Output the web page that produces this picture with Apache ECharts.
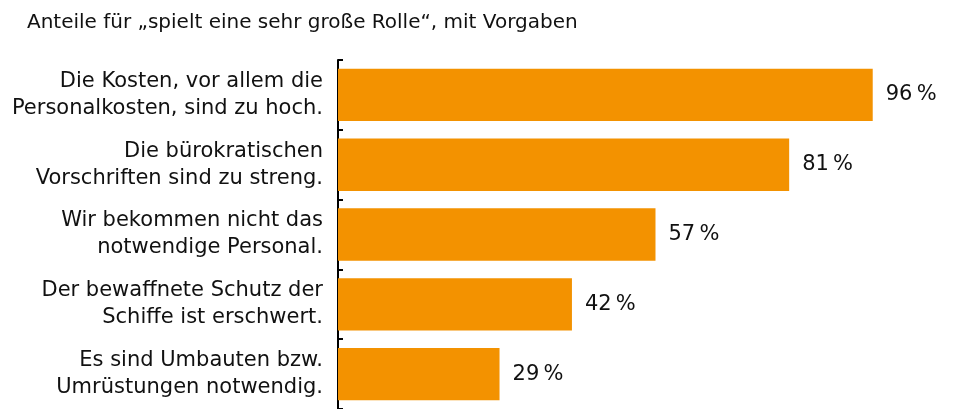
<!DOCTYPE html>
<html><head><meta charset="utf-8">
<script src="https://cdn.jsdelivr.net/npm/echarts@6/dist/echarts.min.js"></script>
<style>html,body{margin:0;padding:0;background:#fff}#c{width:956px;height:409px}</style>
</head><body><div id="c"></div>
<script>
const title = 'Anteile für „spielt eine sehr große Rolle“, mit Vorgaben';
const categories = [
  'Die Kosten, vor allem die\nPersonalkosten, sind zu hoch.',
  'Die bürokratischen\nVorschriften sind zu streng.',
  'Wir bekommen nicht das\nnotwendige Personal.',
  'Der bewaffnete Schutz der\nSchiffe ist erschwert.',
  'Es sind Umbauten bzw.\nUmrüstungen notwendig.'
];
const values = [96, 81, 57, 42, 29];
const font = '"DejaVu Sans", sans-serif';
const chart = echarts.init(document.getElementById('c'), null, {renderer: 'canvas'});
chart.setOption({
  animation: false,
  title: {text: title, left: 22, top: 8, textStyle: {fontFamily: font, fontSize: 20, fontWeight: 'normal', color: '#111'}},
  grid: {left: 338, right: 61, top: 60, height: 352, containLabel: false},
  xAxis: {type: 'value', min: 0, max: 100, show: false},
  yAxis: {
    type: 'category', data: categories, inverse: true,
    axisLine: {show: true, lineStyle: {color: '#000', width: 2}},
    axisTick: {show: true, inside: true, length: 5, lineStyle: {color: '#000', width: 2}},
    axisLabel: {fontFamily: font, fontSize: 21, color: '#111', lineHeight: 27, margin: 15, align: 'right'}
  },
  series: [{
    type: 'bar', data: values, barCategoryGap: '25%',
    itemStyle: {color: '#F39200'},
    label: {show: true, position: 'right', distance: 13, fontFamily: font, fontSize: 21, color: '#111',
      formatter: p => p.value + '\u2009%'}
  }]
});
</script></body></html>
